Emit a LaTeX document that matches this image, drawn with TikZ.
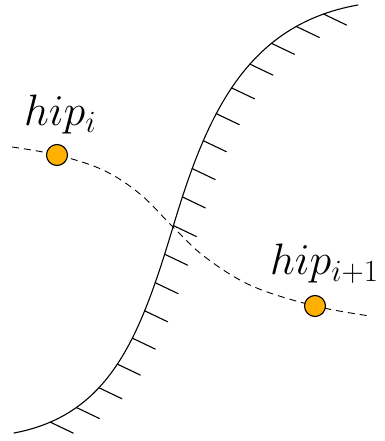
\documentclass[tikz,border=0pt]{standalone}
\usepackage{fix-cm}
\usetikzlibrary{decorations.markings}

\definecolor{hipfill}{RGB}{255,176,0}
\tikzset{
	hipdot/.style={circle, draw=black, line width=1.1pt, fill=hipfill, minimum size=21pt, inner sep=0pt},
	hiplabel/.style={anchor=base west, inner sep=0pt, font=\fontsize{44}{50}\selectfont},
	hatched/.style={decoration={markings,
		mark=between positions 0.065 and 0.95 step 30pt with {\pgftransformresetnontranslations \draw[line width=1.1pt] (0,0) -- (23pt,-11pt);}},
		postaction={decorate}}
}

\begin{document}
\begin{tikzpicture}[x=1pt, y=1pt, line join=round, line cap=round]
	\useasboundingbox (0, 0) rectangle (384, 441);
	% wall
	\draw[line width=1.1pt, hatched] (14, 8) .. controls (110, 26) and (140, 104) .. (173, 214) .. controls (206, 324) and (245, 416) .. (358, 436);
	% trajectory
	\coordinate (p1) at (57, 286);
	\coordinate (p2) at (315, 135);
	\draw[line width=0.9pt, line cap=butt, dash pattern=on 7pt off 5pt] plot[smooth, tension=0.6] coordinates {(12, 294) (p1) (103, 271) (140, 247) (173, 214) (205, 184) (252, 155) (p2) (370, 125)};
	\node[hipdot] (d1) at (p1) {};
	\node[hipdot] (d2) at (p2) {};
	\node[hiplabel] (l1) at (24, 315) {$hip_i$};
	\node[hiplabel] (l2) at (270, 166) {$hip_{i+1}$};
\end{tikzpicture}
\end{document}
